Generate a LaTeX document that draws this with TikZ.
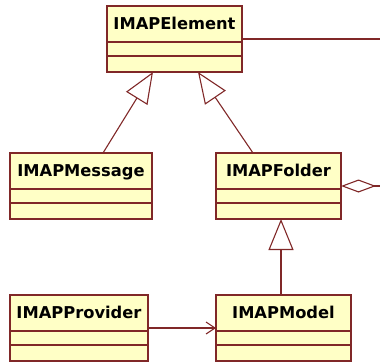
\documentclass[tikz,border=0pt]{standalone}
\usepackage{fontspec}
\setmainfont{DejaVu Sans}
\usetikzlibrary{arrows.meta}
\definecolor{umlborder}{RGB}{128,40,40}
\definecolor{umlfill}{RGB}{255,255,198}
\tikzset{
  classbox/.style={draw=umlborder, fill=umlfill, line width=1.1pt,
    minimum height=66pt, inner sep=0pt, outer sep=0pt},
  classname/.style={anchor=base, inner sep=0pt,
    font=\fontsize{16.3}{19}\selectfont\bfseries, text=black},
  classline/.style={draw=umlborder, line width=1.1pt},
  conn/.style={draw=umlborder, line width=1.1pt},
  inherit/.style={conn, -{Triangle[open, length=31pt, width=25pt, line width=1.1pt]}},
  aggr/.style={conn, -{Diamond[open, length=35pt, width=13pt, line width=1.1pt]}},
  navig/.style={conn, -{Straight Barb[length=9pt, width=12pt, line width=1.1pt]}},
}
% one UML class: name, north-west corner, width, label
\newcommand\umlclass[4]{%
  \node[classbox, minimum width=#3, anchor=north west] (#1) at (#2) {};
  \node[classname] (#1-name) at ([yshift=-23pt]#1.north) {#4};
  \draw[classline] ([yshift=-36pt]#1.north west) -- ([yshift=-36pt]#1.north east);
  \draw[classline] ([yshift=-50pt]#1.north west) -- ([yshift=-50pt]#1.north east);
}
\begin{document}
\begin{tikzpicture}[x=1pt, y=-1pt]
  \useasboundingbox (0,0) rectangle (380,362);

  \umlclass{element}{107,6}{135pt}{IMAPElement}
  \umlclass{message}{10,153}{142pt}{IMAPMessage}
  \umlclass{folder}{216,153}{125pt}{IMAPFolder}
  \umlclass{provider}{10,295}{138pt}{IMAPProvider}
  \umlclass{model}{216,295}{135pt}{IMAPModel}

  % free ends of the connectors leaving to the right
  \coordinate (elementOut) at (380,39);
  \coordinate (folderOut) at (380,186);

  % generalizations
  \draw[inherit] ([xshift=93pt]message.north west) -- ([xshift=46pt]element.south west);
  \draw[inherit] ([xshift=37pt]folder.north west) -- ([xshift=91pt]element.south west);
  \draw[inherit] ([xshift=65pt]model.north west) -- ([xshift=65pt]folder.south west);

  % associations
  \draw[conn] ([yshift=-33pt]element.north east) -- (elementOut);
  \draw[aggr] (folderOut) -- (folder.east |- folderOut);
  \draw[navig] ([yshift=-33pt]provider.north east) -- ([yshift=-33pt]model.north west);
\end{tikzpicture}
\end{document}
